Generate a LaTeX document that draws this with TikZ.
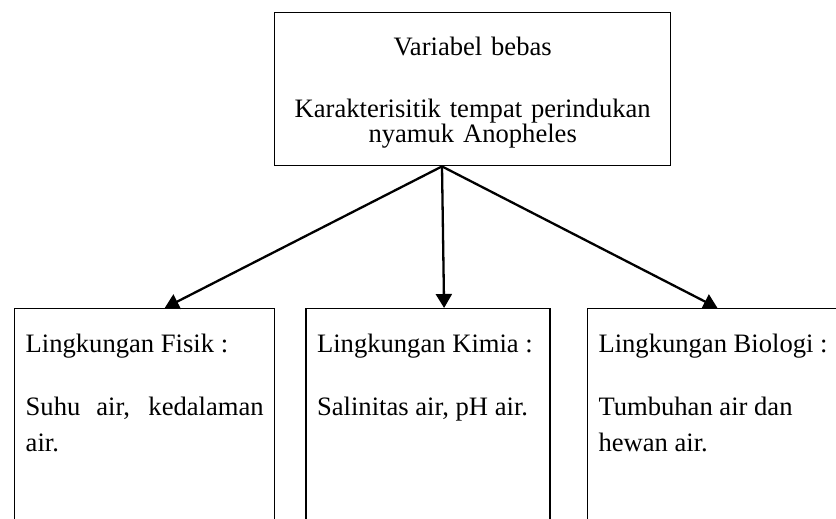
\documentclass[tikz,border=0pt]{standalone}
\usepackage{fontspec}
\setmainfont{Liberation Serif}
\usetikzlibrary{arrows.meta,positioning}
\tikzset{
    topbox/.style={draw,line width=1.4pt,anchor=north west,inner xsep=11pt,inner ysep=0pt,
        text width=374pt,align=center,text height=43pt,text depth=110pt,
        font=\fontsize{26.6}{25}\selectfont},
    envbox/.style={draw,line width=1.4pt,inner xsep=11pt,inner ysep=0pt,align=justify,
        text height=44pt,text depth=240pt,font=\fontsize{26.6}{36}\selectfont,
        execute at begin node={\hyphenpenalty=10000\relax\tolerance=9999\relax}},
    arrow/.style={-{Triangle[length=14pt,width=16pt]},line width=2.3pt}
}
\begin{document}
\begin{tikzpicture}[x=1pt,y=-1pt]
    \clip (0,0) rectangle (836,519);
    \node[topbox] (var) at (274,12) {Variabel bebas\\[37pt]Karakterisitik tempat perindukan\\nyamuk Anopheles};
    \node[envbox,text width=238pt,anchor=north west] (fisik) at (14,308) {Lingkungan Fisik :\\[27pt]Suhu air, kedalaman air.};
    \node[envbox,text width=222pt,right=30pt of fisik] (kimia) {Lingkungan Kimia :\\[27pt]Salinitas air, pH air.};
    \node[envbox,text width=248pt,right=36pt of kimia] (biologi) {Lingkungan Biologi :\\[27pt]Tumbuhan air dan\\hewan air.};
    \coordinate (split) at ([xshift=168pt]var.south west);
    \draw[arrow] (split)--([xshift=20pt]fisik.north);
    \draw[arrow] (split)--([xshift=16pt]kimia.north);
    \draw[arrow] (split)--([xshift=-5pt]biologi.north);
\end{tikzpicture}
\end{document}
